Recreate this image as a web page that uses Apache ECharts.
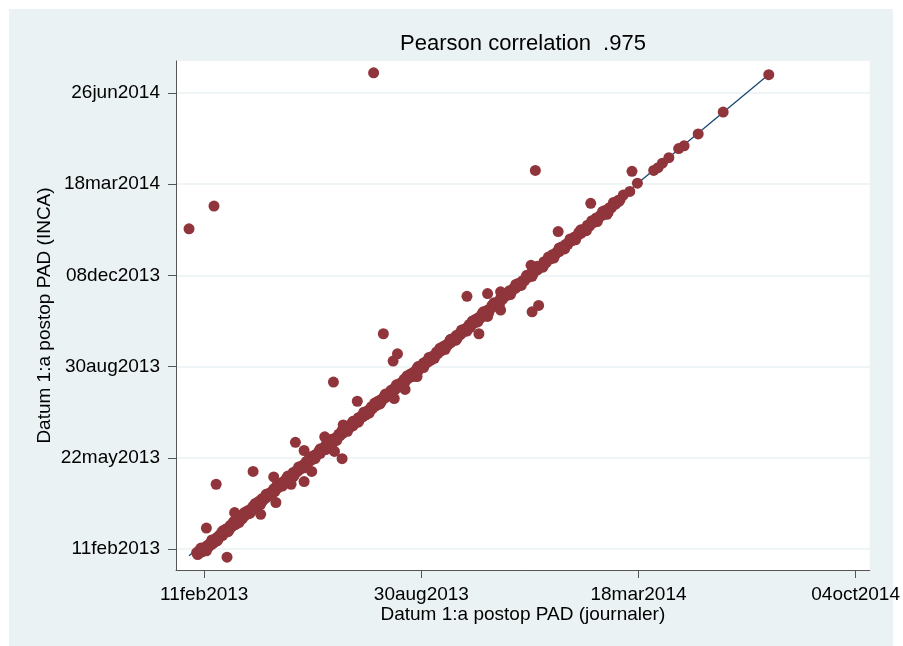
<!DOCTYPE html>
<html>
<head>
<meta charset="utf-8">
<script src="https://cdn.jsdelivr.net/npm/echarts@6/dist/echarts.min.js"></script>
<style>
  html, body { margin: 0; padding: 0; background: #fff; }
  #main { width: 903px; height: 646px; }
</style>
</head>
<body>
<div id="main"></div>
<script>
// days counted from 11feb2013 (x = journaler, y = INCA)
var xTickVals = [0, 200, 400, 600];
var xTickLabels = ['11feb2013', '30aug2013', '18mar2014', '04oct2014'];
var yTickVals = [0, 100, 200, 300, 400, 500];
var yTickLabels = ['11feb2013', '22may2013', '30aug2013', '08dec2013', '18mar2014', '26jun2014'];

// the dense diagonal band (dates mostly agree)
var bandLow = [[-7,-4],[-6,-6],[-5,-2],[-4,-4],[-3,-1],[-2,-3],[-1,1],[0,-1],[1,2],[2,0],[3,4],[4,2],[5,5],[6,7],[7,5],[8,9],[9,7],[10,11],[11,10],[12,13],[13,11],[14,15],[15,14],[16,18],[17,15],[18,19],[19,18],[20,22],[21,20],[22,23],[23,21],[24,26],[25,24],[26,27],[27,26],[28,30],[29,27],[30,31],[31,30],[32,34],[33,32],[34,35],[35,33],[36,38],[37,36],[38,39],[39,38],[40,42],[41,40],[43,44],[44,43],[45,47],[46,44],[48,49],[49,48],[50,52],[52,51],[53,55],[54,53],[56,57],[57,56],[58,60],[60,59],[61,62],[62,61],[64,66],[65,63],[67,68],[68,67],[70,72],[71,70],[73,74],[74,73],[76,78],[77,76],[79,80],[80,79],[82,84],[83,81],[85,86],[86,85],[88,90],[89,88],[91,92],[92,91],[94,96],[95,93],[97,98],[98,97],[100,102],[101,100],[103,104],[104,103],[106,108],[107,105],[109,110],[110,109],[112,114],[113,112],[115,116],[116,115],[118,120],[119,117],[121,122],[122,121],[124,126],[125,124],[127,128],[128,127]];
var bandMid = [[130,132],[131,130],[133,134],[134,133],[136,138],[137,135],[139,140],[140,139],[142,144],[143,142],[145,146],[146,145],[148,150],[149,147],[151,152],[152,151],[154,156],[155,154],[157,158],[158,157],[160,162],[161,159],[163,164],[164,163],[166,168],[167,166],[169,170],[170,169],[172,174],[173,171],[175,176],[176,175],[178,180],[179,178],[181,182],[182,181],[184,186],[185,183],[187,188],[188,187],[190,192],[191,190],[193,194],[194,193],[196,198],[197,195],[199,200],[200,199],[202,204],[203,202],[205,206],[206,205],[208,210],[209,207],[211,212],[212,211],[214,216],[215,214],[217,218],[218,217],[220,222],[221,219],[223,224],[224,223],[226,228],[227,226],[229,230],[230,229],[232,234],[233,231],[235,236],[236,235],[238,240],[239,238],[241,242],[242,241],[244,246],[245,243],[247,248],[248,247],[250,252],[251,250],[253,254],[254,253],[256,258],[257,255],[259,260]];
var bandHigh = [[261,262],[263,262],[265,267],[267,266],[269,270],[271,270],[273,275],[275,274],[277,278],[279,278],[281,283],[283,282],[285,286],[287,286],[289,291],[291,290],[293,294],[295,294],[297,299],[299,298],[301,302],[303,302],[305,307],[307,306],[309,310],[311,310],[313,315],[315,314],[317,318],[319,318],[321,323],[323,322],[325,326],[327,326],[329,331],[331,330],[333,334],[335,334],[337,339],[339,338],[341,342],[343,342],[345,347],[347,346],[349,350],[351,350],[353,355],[355,354],[357,358],[359,358],[361,363],[363,362],[365,366],[367,366],[369,371],[371,370],[373,374],[375,374],[377,379],[379,378],[381,382],[383,383],[386,388]];
// entries a few days apart that widen the band
var bandWide = [[-3,1],[2,-2],[7,10],[12,9],[17,20],[22,19],[27,30],[32,29],[37,40],[42,39],[47,50],[52,49],[57,60],[62,59],[67,70],[72,69],[77,80],[82,79],[87,90],[92,89],[97,100],[102,99],[107,110],[112,109],[117,120],[122,119],[127,130],[132,129],[137,140],[142,139],[147,150],[152,149],[157,160],[162,159],[167,170],[172,169],[177,180],[182,179],[187,190],[192,189],[197,200],[202,199],[207,210],[212,209],[217,220],[222,219],[227,230],[232,229],[237,240],[242,239],[247,250],[252,249],[257,260],[262,259],[267,270],[272,269],[277,280],[282,279],[287,290],[292,289],[297,300],[302,299],[307,310],[312,309],[317,320],[322,319],[327,330],[332,329],[337,340],[342,339],[347,350],[352,349],[357,360],[362,359],[367,370],[372,369],[377,380],[382,381]];
// sparse points at the top end
var tail = [[392,392],[399,401],[414,415],[418,418],[422,423],[428,429],[437,439],[442,442],[455,455],[478,479],[520,520]];
// points off the diagonal
var outliers = [[156,522],[-14,351],[9,376],[305,415],[11,71],[45,85],[2,23],[21,-9],[64,79],[66,51],[52,38],[28,40],[84,117],[92,108],[80,71],[92,74],[99,85],[120,107],[127,99],[111,123],[128,136],[119,183],[141,162],[242,277],[165,236],[178,214],[174,206],[175,165],[185,175],[196,189],[261,280],[273,282],[273,262],[261,255],[253,236],[301,311],[302,260],[308,267],[326,348],[356,379],[371,367],[394,414]];
// linear fit, ends at min and max of x
var fitX = [-14, 520];
var fitY = [-7.3, 520.3];

var font = 'Arial, "Liberation Sans", sans-serif';

function tickLabel(vals, labels) {
    return function (v) {
        var i = vals.indexOf(Math.round(v));
        return i >= 0 ? labels[i] : '';
    };
}

var myChart = echarts.init(document.getElementById('main'));

var option = {
    animation: false,
    graphic: [{
        type: 'rect',
        z: -10,
        shape: { x: 9, y: 9, width: 884, height: 637 },
        style: { fill: '#EAF2F3' },
        silent: true
    }],
    title: {
        text: 'Pearson correlation  .975',
        left: 523,
        top: 33,
        padding: 0,
        textAlign: 'center',
        textStyle: { fontFamily: font, fontSize: 22, fontWeight: 'normal', color: '#000' }
    },
    grid: {
        left: 176, right: 32, top: 61, bottom: 76,
        containLabel: false,
        show: true,
        backgroundColor: '#fff',
        borderWidth: 0
    },
    xAxis: {
        type: 'value',
        min: -26,
        max: 613,
        name: 'Datum 1:a postop PAD (journaler)',
        nameLocation: 'middle',
        nameGap: 35,
        nameMoveOverlap: false,
        nameTextStyle: { fontFamily: font, fontSize: 19, color: '#000' },
        axisLine: { show: true, onZero: false, lineStyle: { color: '#555', width: 1 } },
        axisTick: { show: true, length: 8, customValues: xTickVals, lineStyle: { color: '#555' } },
        axisLabel: {
            customValues: xTickVals,
            formatter: tickLabel(xTickVals, xTickLabels),
            fontFamily: font, fontSize: 19, color: '#000', margin: 15
        },
        splitLine: { show: false }
    },
    yAxis: {
        type: 'value',
        min: -23,
        max: 535,
        name: 'Datum 1:a postop PAD (INCA)',
        nameLocation: 'middle',
        nameGap: 122,
        nameMoveOverlap: false,
        nameTextStyle: { fontFamily: font, fontSize: 19, color: '#000' },
        axisLine: { show: true, onZero: false, lineStyle: { color: '#555', width: 1 } },
        axisTick: { show: true, length: 8, customValues: yTickVals, lineStyle: { color: '#555' } },
        axisLabel: {
            customValues: yTickVals,
            formatter: tickLabel(yTickVals, yTickLabels),
            fontFamily: font, fontSize: 19, color: '#000', margin: 16
        },
        splitLine: { show: true, lineStyle: { color: '#EAF2F3', width: 1.5 } }
    },
    series: [
        {
            name: 'fit',
            type: 'line',
            data: fitX.map(function (x, i) { return [x, fitY[i]]; }),
            symbol: 'none',
            silent: true,
            z: 1,
            lineStyle: { color: '#1A476F', width: 1.3 }
        },
        {
            name: 'dates',
            type: 'scatter',
            data: bandLow.concat(bandMid, bandHigh, bandWide, tail, outliers),
            symbolSize: 11,
            z: 2,
            itemStyle: { color: '#90353B', opacity: 1 }
        }
    ]
};

myChart.setOption(option);
</script>
</body>
</html>
